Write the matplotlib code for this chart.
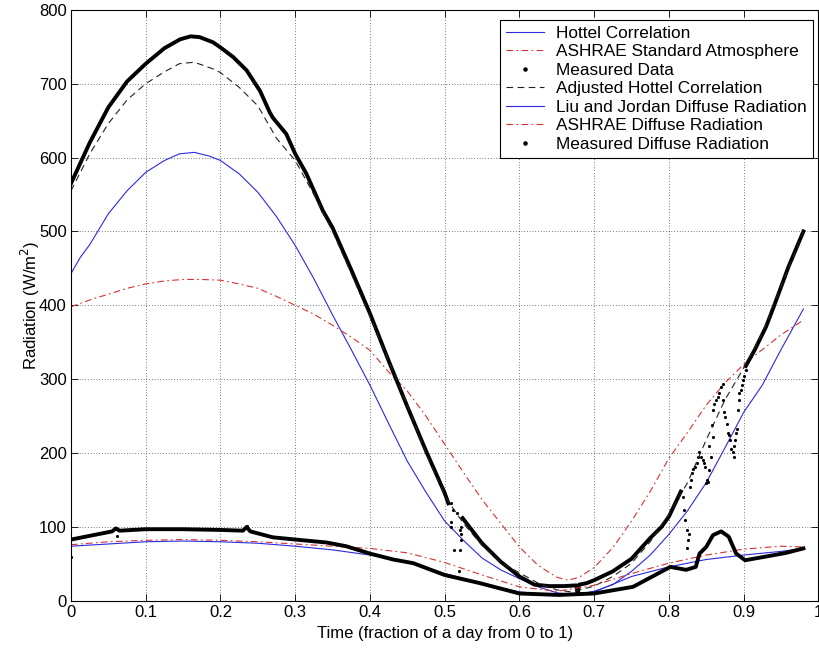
import matplotlib
matplotlib.use('Agg')
import matplotlib.pyplot as plt
from matplotlib.lines import Line2D

plt.rcParams['font.family'] = ['Liberation Sans', 'DejaVu Sans']
plt.rcParams['font.size'] = 12

# Hottel correlation (beam + diffuse clear sky)
hot_x = [0, 0.0125, 0.025, 0.05, 0.075, 0.1, 0.125, 0.145, 0.165, 0.185, 0.2, 0.225, 0.25, 0.275,
         0.3, 0.325, 0.35, 0.375, 0.4, 0.425, 0.45, 0.475, 0.5, 0.525, 0.55, 0.575, 0.6, 0.625,
         0.65, 0.675, 0.7, 0.725, 0.75, 0.775, 0.8, 0.825, 0.85, 0.875, 0.9, 0.925, 0.95, 0.98]
hot_y = [443, 465, 482, 524, 555, 580, 596, 605, 607, 602, 596, 578, 553, 520,
         481, 436, 387, 340, 292, 240, 189, 147, 108, 82, 58, 42, 30, 19,
         11, 8, 13, 22, 40, 62, 90, 122, 160, 207, 255, 292, 340, 395]

# ASHRAE standard atmosphere
ash_x = [0, 0.03, 0.05, 0.075, 0.1, 0.125, 0.15, 0.175, 0.2, 0.225, 0.25, 0.275, 0.3, 0.325, 0.35,
         0.375, 0.4, 0.425, 0.45, 0.475, 0.5, 0.525, 0.55, 0.575, 0.6, 0.625, 0.65, 0.665, 0.68,
         0.7, 0.725, 0.75, 0.775, 0.8, 0.825, 0.85, 0.875, 0.9, 0.925, 0.95, 0.98]
ash_y = [398, 409, 415, 423, 429, 433, 435, 435, 434, 429, 423, 412, 400, 388, 373,
         357, 339, 310, 284, 250, 212, 174, 137, 105, 73, 48, 32, 28, 32,
         45, 72, 108, 148, 193, 228, 265, 295, 320, 340, 360, 380]

# Adjusted Hottel correlation
adj_x = [0, 0.025, 0.05, 0.075, 0.1, 0.125, 0.145, 0.165, 0.19, 0.2, 0.225, 0.25, 0.275, 0.3, 0.325,
         0.35, 0.375, 0.4, 0.425, 0.45, 0.475, 0.5, 0.525, 0.55, 0.575, 0.6, 0.625, 0.65, 0.67,
         0.7, 0.725, 0.75, 0.775, 0.8, 0.825, 0.85, 0.875, 0.9, 0.925, 0.95, 0.98]
adj_y = [555, 605, 646, 678, 700, 716, 727, 729, 720, 715, 695, 670, 626, 596, 550,
         500, 443, 385, 325, 265, 200, 142, 105, 75, 52, 38, 24, 15, 12,
         20, 33, 51, 80, 117, 160, 218, 272, 315, 362, 425, 500]

# Measured data (continuous parts)
meas1_x = [0, 0.025, 0.05, 0.075, 0.1, 0.125, 0.146, 0.16, 0.172, 0.19, 0.2, 0.217, 0.235, 0.253,
           0.266, 0.27, 0.288, 0.3, 0.315, 0.337, 0.35, 0.375, 0.4, 0.425, 0.45, 0.475, 0.5, 0.505]
meas1_y = [565, 620, 668, 703, 727, 748, 760, 764, 763, 756, 749, 736, 718, 690,
           661, 654, 632, 605, 578, 528, 505, 448, 389, 325, 263, 203, 146, 132]
meas2_x = [0.524, 0.55, 0.575, 0.6, 0.62, 0.64, 0.66, 0.676, 0.678, 0.68, 0.69, 0.7, 0.725, 0.75,
           0.775, 0.79, 0.8, 0.816]
meas2_y = [112, 78, 53, 33, 22, 20, 20, 21, 10, 22, 24, 28, 40, 57,
           85, 100, 114, 148]
meas3_x = [0.903, 0.915, 0.93, 0.941, 0.96, 0.98]
meas3_y = [318, 340, 371, 400, 452, 500]

# Measured data (scattered points)
scat_x = [0.509, 0.511, 0.509, 0.508, 0.520, 0.522, 0.522, 0.513, 0.520, 0.519, 0.516, 0.522,
          0.8186, 0.8209, 0.8222, 0.8240, 0.8253, 0.8240, 0.8267, 0.8276, 0.8298, 0.8311, 0.8329,
          0.8356, 0.8374, 0.8387, 0.8409, 0.8432, 0.8454, 0.8476, 0.8489, 0.8507, 0.8521, 0.8498,
          0.8543, 0.8565, 0.8543, 0.8588, 0.8579, 0.8597, 0.8610, 0.8632, 0.8655, 0.8677, 0.8699,
          0.8721, 0.8730, 0.8743, 0.8757, 0.8775, 0.8788, 0.8801, 0.8819, 0.8837, 0.8855, 0.8868,
          0.8877, 0.8890, 0.8899, 0.8908, 0.8921, 0.8935, 0.8944, 0.8966, 0.8979, 0.8997, 0.9011,
          0.9033]
scat_y = [132, 123, 107, 100, 96, 91, 82, 69, 69, 40, 119, 100,
          141, 123, 109, 96, 82, 71, 91, 154, 164, 173, 179,
          181, 186, 195, 202, 195, 191, 186, 181, 164, 161, 159,
          177, 195, 209, 222, 238, 258, 267, 272, 276, 281, 290,
          294, 272, 256, 249, 240, 227, 224, 218, 206, 202, 195,
          209, 218, 227, 233, 258, 272, 281, 285, 292, 299, 305,
          312]

# Liu and Jordan diffuse radiation
liu_x = [0, 0.05, 0.1, 0.15, 0.2, 0.25, 0.3, 0.35, 0.4, 0.45, 0.5, 0.55, 0.6, 0.65, 0.7,
         0.75, 0.8, 0.85, 0.9, 0.95, 0.98]
liu_y = [74, 77, 80, 81, 80, 78, 74, 69, 62, 53, 37, 24, 12, 8, 12,
         33, 46, 56, 62, 67, 71]

# ASHRAE diffuse radiation
ashd_x = [0, 0.05, 0.1, 0.15, 0.2, 0.25, 0.3, 0.35, 0.4, 0.45, 0.5, 0.55, 0.6, 0.65, 0.7,
          0.75, 0.8, 0.85, 0.9, 0.95, 0.98]
ashd_y = [76, 80, 82, 83, 82, 80, 77, 74, 71, 65, 52, 35, 19, 13, 21,
          37, 51, 62, 70, 74, 73]

# Measured diffuse radiation
md_x = [0, 0.03, 0.055, 0.06, 0.065, 0.1, 0.15, 0.2, 0.23, 0.235, 0.24, 0.27, 0.3, 0.342, 0.368,
        0.4, 0.431, 0.458, 0.5, 0.547, 0.6, 0.653, 0.7, 0.752, 0.802, 0.823, 0.836, 0.841, 0.85,
        0.859, 0.87, 0.88, 0.89, 0.902, 0.93, 0.957, 0.98]
md_y = [83, 89, 94, 98, 95, 97, 97, 96, 95, 100, 94, 86, 83, 79, 74,
        64, 56, 51, 35, 24, 10, 8, 10, 19, 46, 42, 46, 64, 73,
        89, 94, 87, 64, 55, 60, 65, 71]
mds_x = [0, 0.062, 0.06, 0.235]
mds_y = [59, 88, 99, 101]

blue = '#2a2ae0'
red = '#d83030'
dd = (0, (6, 3, 1.5, 3))
dash = (0, (6, 4))

fig = plt.figure(figsize=(8.19, 6.51), dpi=100)
ax = fig.add_axes([0.0867, 0.077, 0.9125, 0.908])

ax.plot(hot_x, hot_y, color=blue, lw=0.8)
ax.plot(ash_x, ash_y, color=red, lw=0.8, linestyle=dd)
ax.plot(meas1_x, meas1_y, color='black', lw=2.8)
ax.plot(meas2_x, meas2_y, color='black', lw=2.8)
ax.plot(meas3_x, meas3_y, color='black', lw=2.8)
ax.plot(scat_x, scat_y, 'k.', ms=4.5, mew=0)
ax.plot(adj_x, adj_y, color='#222222', lw=0.8, linestyle=dash)
ax.plot(liu_x, liu_y, color=blue, lw=0.8)
ax.plot(ashd_x, ashd_y, color=red, lw=0.8, linestyle=dd)
ax.plot(md_x, md_y, color='black', lw=2.8)
ax.plot(mds_x, mds_y, 'k.', ms=4.5, mew=0)

ax.set_xlim(0, 1)
ax.set_ylim(0, 800)
ax.set_xticks([0, 0.1, 0.2, 0.3, 0.4, 0.5, 0.6, 0.7, 0.8, 0.9, 1])
ax.set_xticklabels(['0', '0.1', '0.2', '0.3', '0.4', '0.5', '0.6', '0.7', '0.8', '0.9', '1'])
ax.set_yticks(range(0, 801, 100))
ax.tick_params(direction='in', top=True, right=True, length=5, width=0.6, pad=3)
ax.grid(True, color='black', linestyle=(0, (1, 3)), lw=0.5)
for s in ax.spines.values():
    s.set_linewidth(0.8)
ax.set_xlabel('Time (fraction of a day from 0 to 1)', labelpad=4)
ax.set_ylabel('Radiation (W/m$^2$)', labelpad=-2)

handles = [
    Line2D([], [], color=blue, lw=0.8),
    Line2D([], [], color=red, lw=0.8, linestyle=dd),
    Line2D([], [], color='black', marker='.', ms=4.5, linestyle='none'),
    Line2D([], [], color='#222222', lw=0.8, linestyle=dash),
    Line2D([], [], color=blue, lw=0.8),
    Line2D([], [], color=red, lw=0.8, linestyle=dd),
    Line2D([], [], color='black', marker='.', ms=4.5, linestyle='none'),
]
labels = ['Hottel Correlation', 'ASHRAE Standard Atmosphere', 'Measured Data',
          'Adjusted Hottel Correlation', 'Liu and Jordan Diffuse Radiation',
          'ASHRAE Diffuse Radiation', 'Measured Diffuse Radiation']
leg = ax.legend(handles, labels, loc='upper right', bbox_to_anchor=(0.993, 0.983),
                fancybox=False, framealpha=1, edgecolor='black', borderaxespad=0,
                fontsize=12.4, handlelength=2.2, handletextpad=0.7, labelspacing=0.2,
                borderpad=0.35)
leg.get_frame().set_linewidth(0.8)

fig.savefig('out.png', dpi=100)
